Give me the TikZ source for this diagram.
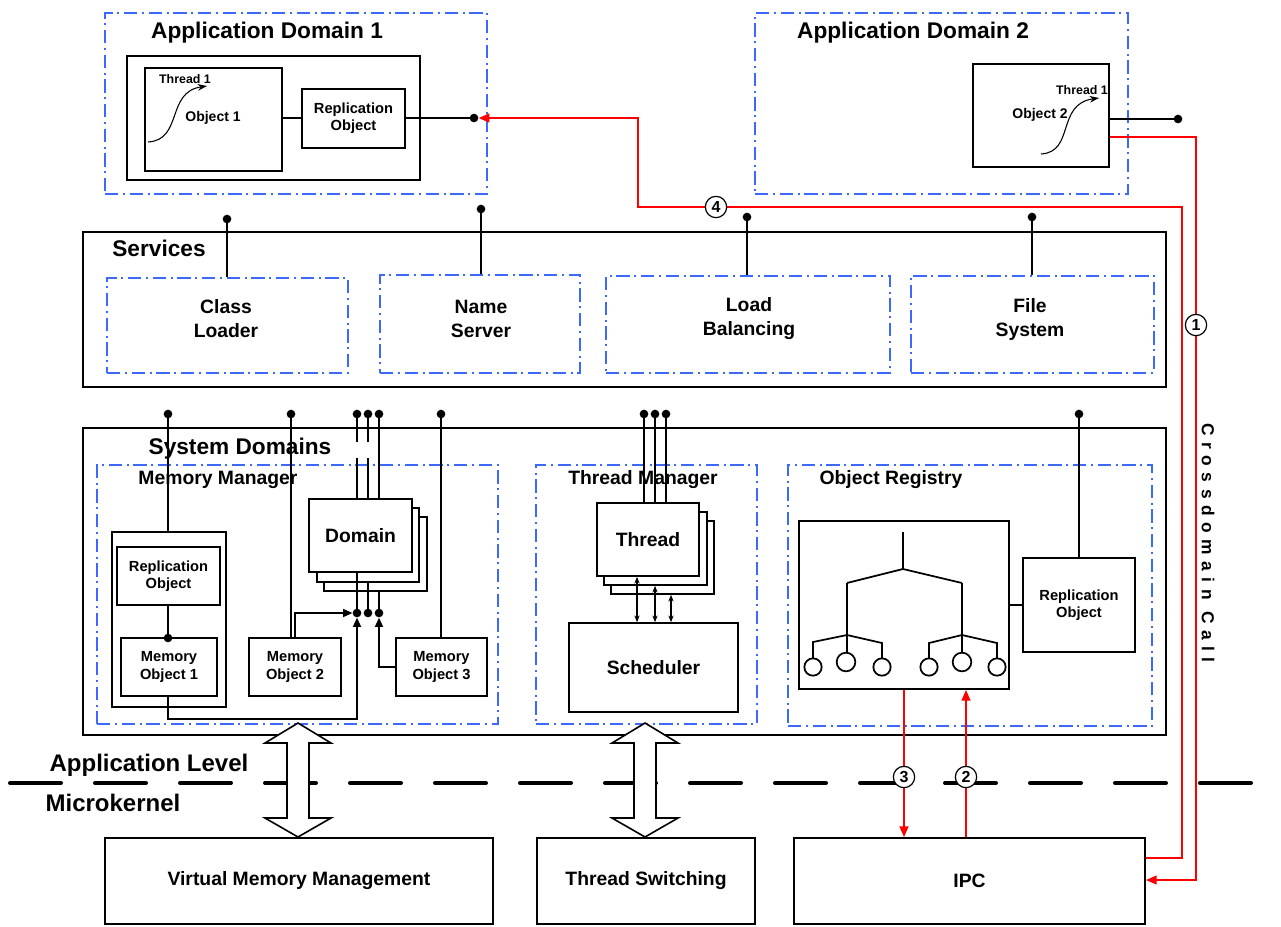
\documentclass[tikz,border=0pt]{standalone}
\usepackage{fontspec}
\setmainfont{Liberation Sans}
\usetikzlibrary{fit,arrows.meta,calc}
\definecolor{ddblue}{RGB}{60,105,250}
\definecolor{rline}{RGB}{255,0,0}
\tikzset{
  T17/.style={font=\bfseries\fontsize{17}{20}\selectfont},
  T18/.style={font=\bfseries\fontsize{18}{21}\selectfont},
  T145/.style={font=\bfseries\fontsize{14.5}{18}\selectfont, align=center},
  T11/.style={font=\bfseries\fontsize{11}{13}\selectfont, align=center},
  T105/.style={font=\bfseries\fontsize{10.5}{12}\selectfont},
  T9/.style={font=\bfseries\fontsize{9.3}{11}\selectfont},
  T13/.style={font=\bfseries\fontsize{13}{15}\selectfont},
  box/.style={draw, line width=1.3pt, fill=white, inner sep=0pt},
  bigbox/.style={draw, line width=1.5pt, inner sep=0pt},
  dd/.style={draw=ddblue, line width=1.8pt, dash pattern=on 10pt off 3.5pt on 1.5pt off 3.5pt, inner sep=0pt},
  conn/.style={line width=1.3pt},
  dot/.style={circle, fill=black, inner sep=0pt, minimum size=6.5pt},
  redl/.style={draw=rline, line width=1.5pt},
  rarr/.style={-{Triangle[length=8pt,width=6.5pt]}},
  barr/.style={-{Triangle[length=7pt,width=6pt]}},
  tarr/.style={-{Stealth[length=7pt,width=5pt]}, line width=0.8pt},
  sarr/.style={{Stealth[length=5pt,width=4pt]}-{Stealth[length=5pt,width=4pt]}, line width=1pt},
  num/.style={circle, draw, line width=0.9pt, fill=white, inner sep=0pt, minimum size=16pt, font=\bfseries\fontsize{12}{12}\selectfont},
  hollow/.style={draw, line width=1.2pt, fill=white},
}
\begin{document}
\begin{tikzpicture}[x=0.75pt,y=-0.75pt]
\useasboundingbox (0,0) rectangle (1281,926);

% level divider
\draw[line width=3pt, dash pattern=on 38.25pt off 25.5pt, line cap=round] (10,783) -- (1290,783);

% ---------------- Application Domain 1
\node[dd, fit={(105,13)(487,194)}] (ad1) {};
\node[T17] (ad1t) at (267,33) {Application Domain 1};
\node[box, fit={(127,56)(420,180)}] (in1) {};
\node[box, fit={(145,68)(282,171)}] (obj1) {};
\node[T105] (obj1t) at (213,118) {Object 1};
\node[T9] (th1t) at (185,79) {Thread 1};
\draw[tarr] (148,142) .. controls (183,140) and (166,92) .. (207,86);
\node[box, fit={(302,89)(405,148)}] (rep1) {};
\node[T11] (rep1t) at (rep1.center) {Replication\\Object};
\node[dot] (dot1) at (474,118) {};
\draw[conn] (obj1.east |- dot1) -- (rep1.west |- dot1);
\draw[conn] (rep1.east |- dot1) -- (dot1.center);

% ---------------- Application Domain 2
\node[dd, fit={(755,13)(1128,194)}] (ad2) {};
\node[T17] (ad2t) at (913,33) {Application Domain 2};
\node[box, fit={(973,64)(1109,167)}] (obj2) {};
\node[T105] (obj2t) at (1040,115) {Object 2};
\node[T9] (th2t) at (1082,90) {Thread 1};
\draw[tarr] (1041,154) .. controls (1075,152) and (1056,104) .. (1099,98);
\node[dot] (dot2) at (1178,119) {};
\draw[conn] (obj2.east |- dot2) -- (dot2.center);

% ---------------- Services
\node[bigbox, fit={(83,232)(1166,387)}] (svc) {};
\node[T17] (svct) at (159,248) {Services};
\node[dd, fit={(107,278)(348,373)}] (cl) {};
\node[T145] (clt) at (226,319) {Class\\Loader};
\node[dd, fit={(380,275)(580,373)}] (ns) {};
\node[T145] (nst) at (481,319) {Name\\Server};
\node[dd, fit={(606,276)(890,373)}] (lb) {};
\node[T145] (lbt) at (749,319) {Load\\Balancing};
\node[dd, fit={(911,276)(1154,373)}] (fs) {};
\node[T145] (fst) at (1030,319) {File\\System};
\node[dot] (dcl) at (227,219) {};
\node[dot] (dns) at (481,209) {};
\node[dot] (dlb) at (747,217) {};
\node[dot] (dfs) at (1032,217) {};
\foreach \d/\b in {dcl/cl,dns/ns,dlb/lb,dfs/fs}
  \draw[conn] (\d.center) -- (\d.center |- \b.north);

% ---------------- System Domains
\node[bigbox, fit={(83,428)(1166,735)}] (sys) {};
\node[dd, fit={(97,465)(498,724)}] (mm) {};
\node[dd, fit={(536,465)(757,724)}] (tm) {};
\node[dd, fit={(788,465)(1152,726)}] (oreg) {};

% memory manager
\node[box, fit={(112,532)(226,707)}] (mo1c) {};
\node[box, fit={(117,547)(220,605)}] (rep2) {};
\node[T11] (rep2t) at (rep2.center) {Replication\\Object};
\node[box, fit={(121,638)(217,696)}] (mo1) {};
\node[T11] (mo1t) at (mo1.center) {Memory\\Object 1};
\node[box, fit={(249,638)(341,696)}] (mo2) {};
\node[T11] (mo2t) at (mo2.center) {Memory\\Object 2};
\node[box, fit={(396,638)(487,696)}] (mo3) {};
\node[T11] (mo3t) at (mo3.center) {Memory\\Object 3};
\node[box, fit={(324,517)(427,591)}] (dom3) {};
\node[box, fit={(317,508)(419,582)}] (dom2) {};
\node[box, fit={(309,499)(412,572)}] (dom) {};
\node[T145] (domt) at (dom.center) {Domain};

\node[dot] (t168) at (168,414) {};
\node[dot] (t291) at (291,414) {};
\node[dot] (t357) at (357,414) {};
\node[dot] (t368) at (368,414) {};
\node[dot] (t379) at (379,414) {};
\node[dot] (t441) at (441,414) {};
\draw[conn] (t168.center) -- (t168.center |- mo1c.north);
\draw[conn] (t291.center) -- (t291.center |- mo2.north);
\draw[conn] (t441.center) -- (t441.center |- mo3.north);
\foreach \d in {t357,t368,t379}
  \draw[conn] (\d.center) -- (\d.center |- dom.north);
\fill[white] (352,442) rectangle (371,458);

\node[dot] (b357) at (357,613) {};
\node[dot] (b368) at (368,613) {};
\node[dot] (b379) at (379,613) {};
\draw[conn] (b357.center |- dom.south) -- (b357.center);
\draw[conn] (b368.center |- dom2.south) -- (b368.center);
\draw[conn] (b379.center |- dom3.south) -- (b379.center);

\node[dot] (dmo1) at (168,638) {};
\draw[conn] (dmo1.center |- rep2.south) -- (dmo1.center);
\coordinate (x295) at (295,0);
\draw[conn, barr] (x295 |- mo2.north) |- (b357.west);
\draw[conn, barr] (dmo1.center |- mo1.south) -- ++(0,22) -| (b357.south);
\draw[conn, barr] (mo3.west) -| (b379.south);

% thread manager
\node[box, fit={(611,521)(714,594)}] (th3) {};
\node[box, fit={(604,512)(707,585)}] (th2) {};
\node[box, fit={(597,503)(699,576)}] (th) {};
\node[T145] (tht) at (th.center) {Thread};
\node[box, fit={(569,623)(738,712)}] (sch) {};
\node[T145] (scht) at (sch.center) {Scheduler};
\node[dot] (t644) at (644,414) {};
\node[dot] (t655) at (655,414) {};
\node[dot] (t666) at (666,414) {};
\foreach \d in {t644,t655,t666}
  \draw[conn] (\d.center) -- (\d.center |- th.north);
\coordinate (x637) at (637,0);
\coordinate (x655) at (655,0);
\coordinate (x671) at (671,0);
\draw[sarr] (x637 |- th.south) -- (x637 |- sch.north);
\draw[sarr] (x655 |- th2.south) -- (x655 |- sch.north);
\draw[sarr] (x671 |- th3.south) -- (x671 |- sch.north);

% object registry
\node[box, fit={(799,521)(1009,689)}] (tree) {};
\node[box, fit={(1023,558)(1135,652)}] (rep3) {};
\node[T11] (rep3t) at (rep3.center) {Replication\\Object};
\draw[conn] (tree.east |- rep3.west) -- (rep3.west);
\node[dot] (t1079) at (1079,414) {};
\draw[conn] (t1079.center) -- (t1079.center |- rep3.north);
\draw[conn] (903,532) -- (903,569);
\draw[conn] (847,583) -- (903,569) -- (962,583);
\draw[conn] (847,583) -- (847,610);
\draw[line width=1.8pt] (847,610) -- (847,636);
\draw[conn] (962,583) -- (962,610);
\draw[line width=1.8pt] (962,610) -- (962,636);
\draw[conn] (813,658) -- (813,642) -- (847,635) -- (882,643) -- (882,658);
\draw[conn] (847,635) -- (847,653);
\draw[conn] (929,658) -- (929,643) -- (962,635) -- (997,643) -- (997,658);
\draw[conn] (962,635) -- (962,653);
\foreach \cx/\cy/\r in {813/667/6.5pt,846/662/7pt,882/667/6.5pt,929/667/6.5pt,962/662/7pt,997/667/6.5pt}
  \draw[conn, fill=white] (\cx,\cy) circle[radius=\r];

% labels over the system domain lines
\node[T17] (syst) at (240,449) {System Domains};
\node[T145] (mmt) at (218,480) {Memory Manager};
\node[T145] (tmt) at (643,480) {Thread Manager};
\node[T145] (ort) at (891,480) {Object Registry};

% ---------------- Microkernel
\node[box, fit={(105,838)(493,924)}] (vmm) {};
\node[T145] (vmmt) at (vmm.center) {Virtual Memory Management};
\node[box, fit={(537,838)(755,924)}] (tsw) {};
\node[T145] (tswt) at (tsw.center) {Thread Switching};
\node[box, fit={(794,838)(1145,924)}] (ipc) {};
\node[T145] (ipct) at (ipc.center) {IPC};

\node[T18] (alev) at (149,765) {Application Level};
\node[T18] (mk) at (113,803) {Microkernel};

% hollow double arrows
\draw[hollow] (298,723) -- (331,743) -- (309,743) -- (309,818) -- (331,818) -- (298,837)
  -- (265,818) -- (287,818) -- (287,743) -- (265,743) -- cycle;
\draw[hollow] (645,723) -- (678,743) -- (656,743) -- (656,818) -- (678,818) -- (645,837)
  -- (612,818) -- (634,818) -- (634,743) -- (612,743) -- cycle;

% ---------------- red call path
\coordinate (x904) at (904,0);
\coordinate (x966) at (966,0);
\draw[redl, rarr] (x904 |- tree.south) -- (x904 |- ipc.north);
\draw[redl, rarr] (x966 |- ipc.north) -- (x966 |- tree.south);
\coordinate (c1a) at (1196,137);
\coordinate (c1) at (1196,880);
\draw[redl, rarr] (obj2.east |- c1a) -- (c1a) -- (c1) -- (c1 -| ipc.east);
\coordinate (c4) at (1182,858);
\coordinate (c4b) at (638,207);
\draw[redl, rarr] (c4 -| ipc.east) -- (c4) |- (c4b) |- (dot1.east);

\node[num] (n1) at (1196,325) {1};
\node[num] (n2) at (966,777) {2};
\node[num] (n3) at (904,777) {3};
\node[num] (n4) at (716,207) {4};

\node[T13, rotate=-90] (cdc) at (1208,543) {\addfontfeatures{LetterSpace=38}Crossdomain Call};
\end{tikzpicture}
\end{document}
